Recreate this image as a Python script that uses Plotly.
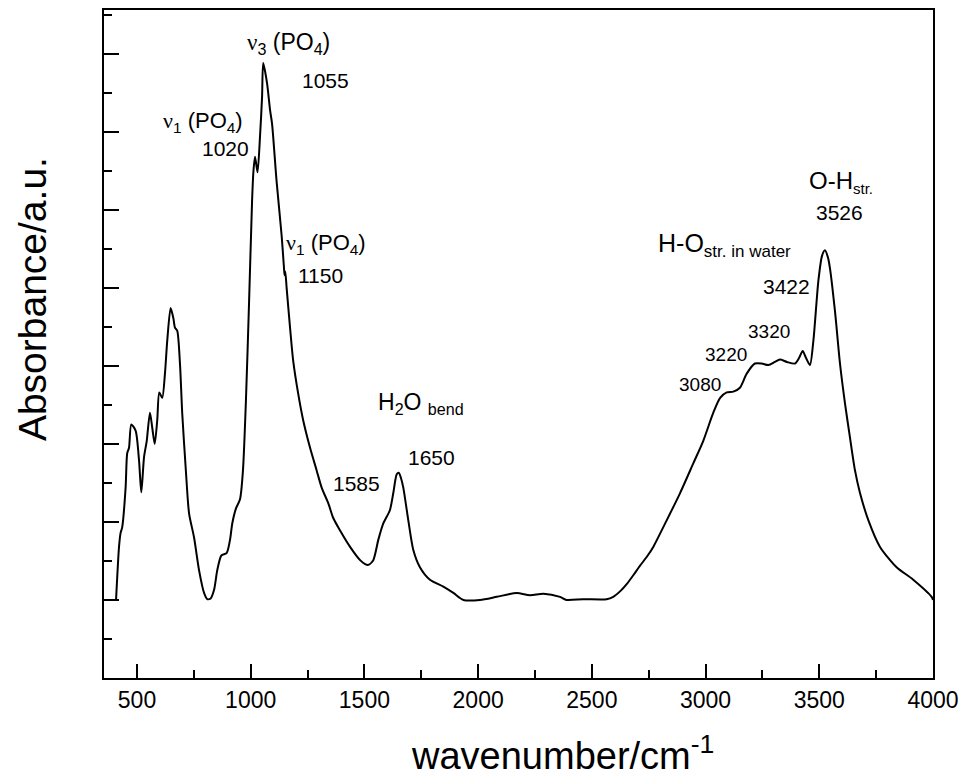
import plotly.graph_objects as go

# wavenumber (cm^-1) and absorbance (a.u.)
wavenumber = [408, 421, 428, 435, 450, 457, 465, 475, 494, 509, 519, 531, 543, 557, 567, 578,
              589, 598, 611, 623, 633, 648, 660, 667, 677, 689, 699, 714, 729, 751, 773, 795,
              809, 824, 839, 853, 871, 894, 909, 919, 935, 953, 966, 979, 993, 1006, 1012, 1019,
              1030, 1041, 1050, 1055, 1072, 1085, 1094, 1114, 1136, 1146, 1149, 1152, 1158, 1173,
              1187, 1209, 1231, 1261, 1290, 1312, 1341, 1363, 1393, 1437, 1481, 1503, 1517, 1539,
              1561, 1583, 1612, 1627, 1642, 1651, 1661, 1671, 1693, 1715, 1744, 1788, 1847, 1891,
              1935, 2008, 2082, 2170, 2228, 2287, 2360, 2389, 2462, 2565, 2594, 2624, 2655, 2683,
              2712, 2741, 2770, 2829, 2888, 2946, 2990, 3034, 3064, 3093, 3122, 3151, 3181, 3217,
              3247, 3276, 3305, 3327, 3358, 3393, 3411, 3427, 3442, 3459, 3474, 3496, 3512, 3525,
              3538, 3547, 3569, 3591, 3613, 3635, 3657, 3679, 3716, 3767, 3840, 3913, 3994, 4000]
absorbance = [0.000, 0.068, 0.086, 0.093, 0.144, 0.188, 0.195, 0.225, 0.217, 0.179, 0.138, 0.183,
              0.204, 0.240, 0.221, 0.200, 0.230, 0.266, 0.259, 0.290, 0.332, 0.374, 0.361, 0.349,
              0.345, 0.303, 0.239, 0.170, 0.111, 0.080, 0.038, 0.009, 0.001, 0.002, 0.013, 0.038,
              0.057, 0.060, 0.077, 0.098, 0.117, 0.129, 0.166, 0.255, 0.383, 0.511, 0.549, 0.568,
              0.548, 0.594, 0.645, 0.688, 0.662, 0.628, 0.610, 0.536, 0.467, 0.427, 0.416, 0.421,
              0.400, 0.349, 0.306, 0.264, 0.230, 0.195, 0.166, 0.144, 0.124, 0.105, 0.089, 0.068,
              0.051, 0.046, 0.045, 0.051, 0.077, 0.098, 0.115, 0.137, 0.161, 0.163, 0.156, 0.144,
              0.102, 0.064, 0.042, 0.026, 0.017, 0.009, 0.000, 0.000, 0.004, 0.009, 0.006, 0.008,
              0.004, 0.000, 0.001, 0.001, 0.004, 0.011, 0.021, 0.032,
              0.044, 0.055, 0.068, 0.102, 0.137, 0.175, 0.204, 0.240, 0.259, 0.266, 0.267, 0.272,
              0.290, 0.303, 0.303, 0.301, 0.305, 0.308, 0.305, 0.303, 0.310, 0.319, 0.310, 0.301,
              0.332, 0.409, 0.441, 0.448, 0.439, 0.425, 0.370, 0.303, 0.252, 0.208, 0.166, 0.137,
              0.102, 0.068, 0.042, 0.026, 0.004, 0.000]

x_ticks = [500, 1000, 1500, 2000, 2500, 3000, 3500, 4000]
x_minor = [750, 1250, 1750, 2250, 2750, 3250, 3750]

x_title = "wavenumber/cm<sup>-1</sup>"
y_title = "Absorbance/a.u."

NU = "<span style='font-family:Liberation Serif'>ν</span>"
# (text, x, y, font size)
labels = [
    (NU + "<sub>3</sub> (PO<sub>4</sub>)", 1165, 0.713, 23),
    ("1055", 1331, 0.666, 21),
    (NU + "<sub>1</sub> (PO<sub>4</sub>)", 790, 0.613, 22),
    ("1020", 891, 0.578, 21),
    (NU + "<sub>1</sub> (PO<sub>4</sub>)", 1332, 0.456, 22),
    ("1150", 1305, 0.416, 21),
    ("H<sub>2</sub>O <sub>bend</sub>", 1750, 0.252, 23),
    ("1650", 1797, 0.183, 21),
    ("1585", 1463, 0.149, 21),
    ("H-O<sub><span style='font-size:17px'>str. in water</span></sub>", 3085, 0.455, 25),
    ("O-H<sub><span style='font-size:15px'>str.</span></sub>", 3597, 0.536, 24),
    ("3526", 3588, 0.497, 21),
    ("3422", 3358, 0.402, 21),
    ("3320", 3280, 0.344, 19),
    ("3220", 3092, 0.315, 19),
    ("3080", 2976, 0.276, 19),
]

fig = go.Figure()
fig.add_trace(go.Scatter(x=wavenumber, y=absorbance, mode="lines",
                         line=dict(color="black", width=2, shape="spline", smoothing=0.7),
                         showlegend=False, hoverinfo="skip"))

for text, x, y, size in labels:
    fig.add_annotation(x=x, y=y, text=text, showarrow=False,
                       font=dict(family="Liberation Sans, Arial", size=size, color="black"))

# axis titles (placed as in the reference)
fig.add_annotation(xref="paper", yref="paper", x=0.553, y=-0.113, text=x_title,
                   showarrow=False, xanchor="center", yanchor="middle", borderpad=0,
                   font=dict(family="Liberation Sans, Arial", size=38, color="black"))
fig.add_annotation(xref="paper", yref="paper", x=-0.087, y=0.567, text=y_title,
                   showarrow=False, xanchor="center", yanchor="middle", textangle=-90,
                   font=dict(family="Liberation Sans, Arial", size=39, color="black"))

fig.update_layout(
    width=969, height=783,
    margin=dict(l=104, r=36, t=8, b=105),
    paper_bgcolor="white", plot_bgcolor="white",
    font=dict(family="Liberation Sans, Arial", color="black"),
)
fig.update_xaxes(range=[355, 4000], tickvals=x_ticks, ticktext=[str(v) for v in x_ticks],
                 ticks="inside", ticklen=14, tickwidth=2, tickcolor="black",
                 minor=dict(tickvals=x_minor, ticks="inside", ticklen=8, tickwidth=2,
                            tickcolor="black"),
                 showline=True, linewidth=2, linecolor="black", mirror=True,
                 showgrid=False, zeroline=False,
                 tickfont=dict(size=23))
fig.update_yaxes(range=[-0.1, 0.756], tick0=0, dtick=0.1, showticklabels=False,
                 ticks="inside", ticklen=15, tickwidth=2, tickcolor="black",
                 minor=dict(tick0=0.05, dtick=0.1, ticks="inside", ticklen=8,
                            tickwidth=2, tickcolor="black"),
                 showline=True, linewidth=2, linecolor="black", mirror=True,
                 showgrid=False, zeroline=False)

fig.write_html("out.html")
